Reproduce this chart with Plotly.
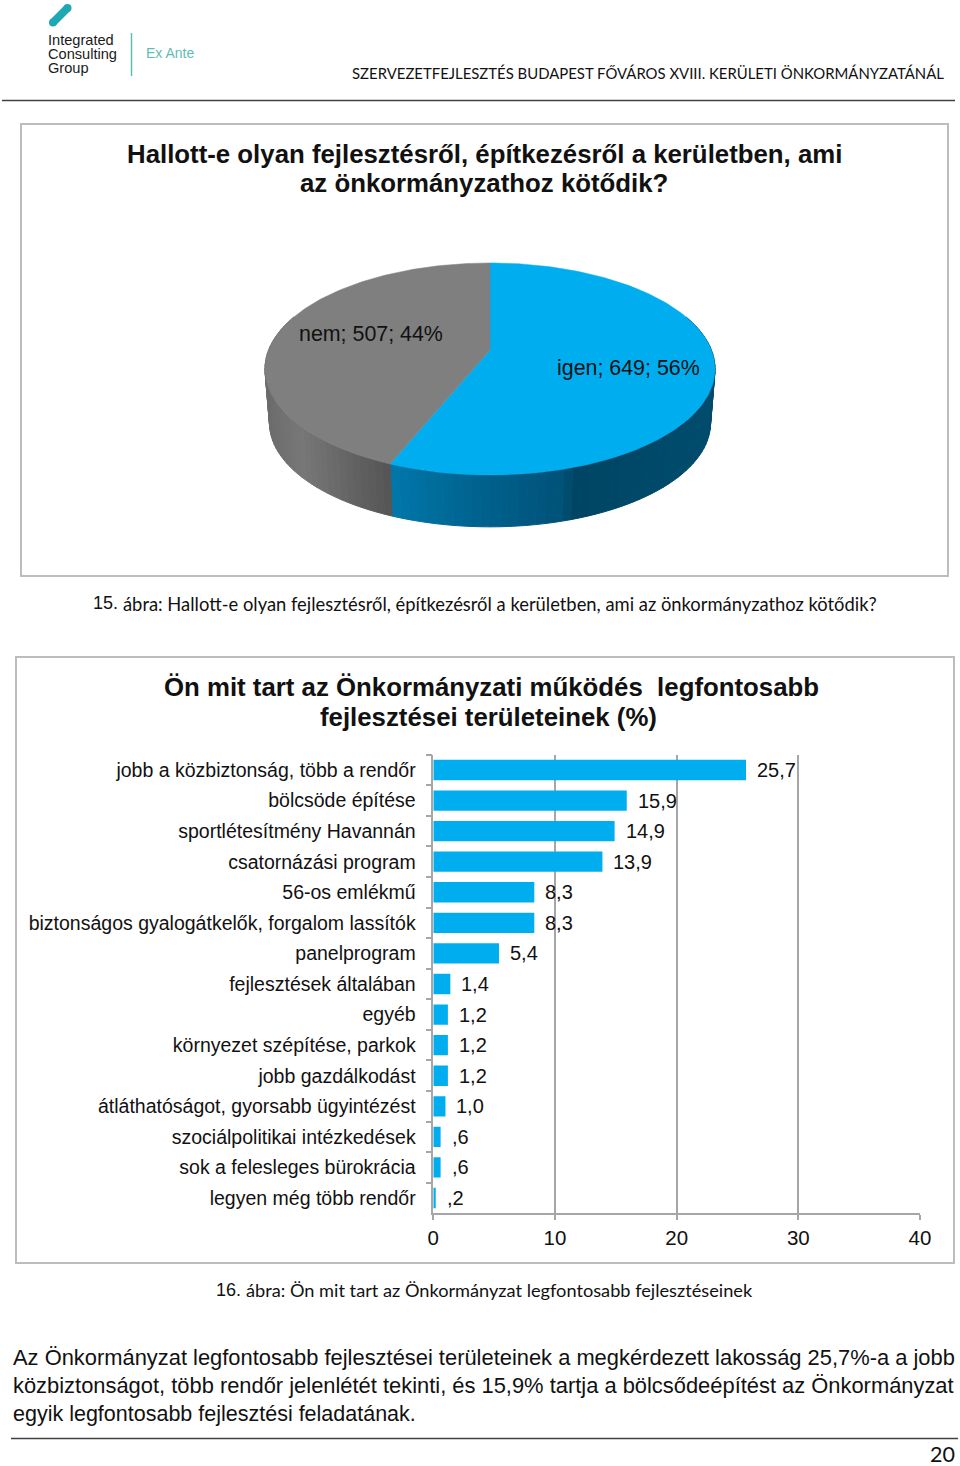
import numpy as np
import plotly.graph_objects as go

W, H = 960, 1466

# ---- data ----
pie_labels = ["igen", "nem"]
pie_values = [649, 507]
pie_percent = [56, 44]
pie_colors = ["#00aeef", "#7f7f7f"]

bar_categories = [
    "jobb a közbiztonság, több a rendőr", "bölcsöde építése", "sportlétesítmény Havannán",
    "csatornázási program", "56-os emlékmű", "biztonságos gyalogátkelők, forgalom lassítók",
    "panelprogram", "fejlesztések általában", "egyéb", "környezet szépítése, parkok",
    "jobb gazdálkodást", "átláthatóságot, gyorsabb ügyintézést", "szociálpolitikai intézkedések",
    "sok a felesleges bürokrácia", "legyen még több rendőr",
]
bar_values = [25.7, 15.9, 14.9, 13.9, 8.3, 8.3, 5.4, 1.4, 1.2, 1.2, 1.2, 1.0, 0.6, 0.6, 0.2]
bar_value_labels = ["25,7", "15,9", "14,9", "13,9", "8,3", "8,3", "5,4", "1,4", "1,2", "1,2",
                    "1,2", "1,0", ",6", ",6", ",2"]
x_ticks = [0, 10, 20, 30, 40]

title_1 = ["Hallott-e olyan fejlesztésről, építkezésről a kerületben, ami", "az önkormányzathoz kötődik?"]
title_2 = ["Ön mit tart az Önkormányzati működés\u00a0 legfontosabb", "fejlesztései területeinek (%)"]
caption_1 = "ábra: Hallott-e olyan fejlesztésről, építkezésről a kerületben, ami az önkormányzathoz kötődik?"
caption_2 = "ábra: Ön mit tart az Önkormányzat legfontosabb fejlesztéseinek"
header = "SZERVEZETFEJLESZTÉS BUDAPEST FŐVÁROS XVIII. KERÜLETI ÖNKORMÁNYZATÁNÁL"
body_lines = [
    "Az Önkormányzat legfontosabb fejlesztései területeinek a megkérdezett lakosság 25,7%-a a jobb",
    "közbiztonságot, több rendőr jelenlétét tekinti, és 15,9% tartja a bölcsődeépítést az Önkormányzat",
    "egyik legfontosabb fejlesztési feladatának.",
]

ARIAL = "Liberation Sans, Arial, sans-serif"
CALIBRI = "Lato, sans-serif"
BLUE = "#00aeef"
GRID = "#a6a6a6"
FRAME = "#bdbdbd"

fig = go.Figure()

# ---- page layer (pixel axes) ----
PX = dict(xaxis="x2", yaxis="y2", hoverinfo="skip", showlegend=False)

# 3-D pie, projected from the values
CX, APEX_Y, A, B, P = 490.0, 350.0, 221.4, 102.6, 0.179
DEPTH_SCALE, TOP_CY, LOW_CY = 0.98, 369.0, 423.0


def rim(theta_deg):
    t = np.radians(theta_deg)
    u, v = np.sin(t), -np.cos(t)
    s = 1 / (1 - P * v)
    return CX + A * u * s, APEX_Y + B * v * s


def low_rim(theta_deg):
    x, y = rim(theta_deg)
    return CX + (x - CX) * DEPTH_SCALE, LOW_CY + (y - TOP_CY) * DEPTH_SCALE


boundary = 360 * pie_values[0] / sum(pie_values)
side_stops_x = [265, 300, 330, 360, 389, 391, 480, 565, 572, 715]
side_stops_rgb = [(0x6c, 0x6c, 0x6c), (0x78, 0x78, 0x78), (0x6c, 0x6c, 0x6c), (0x60, 0x60, 0x60), (0x55, 0x55, 0x55),
                  (0x00, 0x78, 0xaa), (0x00, 0x62, 0x8e), (0x00, 0x52, 0x78), (0x00, 0x46, 0x64), (0x00, 0x4c, 0x6e)]


def side_color(x):
    r, g, b = (np.interp(x, side_stops_x, [c[i] for c in side_stops_rgb]) for i in range(3))
    return f"rgb({int(r)},{int(g)},{int(b)})"


angles = np.sort(np.append(np.linspace(70, 290, 111), boundary))
for a0, a1 in zip(angles[:-1], angles[1:]):
    if a1 <= a0:
        continue
    a_mid = (a0 + a1) / 2
    xs0, ys0 = rim(a0)
    xs1, ys1 = rim(a1)
    xl1, yl1 = low_rim(a1)
    xl0, yl0 = low_rim(a0)
    if a_mid > boundary:
        col = side_color(min((xs0 + xs1) / 2, 389))
    else:
        col = side_color(max((xs0 + xs1) / 2, 391))
    fig.add_trace(go.Scatter(x=[xs0, xs1, xl1, xl0, xs0], y=[ys0, ys1, yl1, yl0, ys0], mode="lines",
                             fill="toself", fillcolor=col, line=dict(color=col, width=1), **PX))

start = 0.0
for value, color in zip(pie_values, pie_colors):
    sweep = 360 * value / sum(pie_values)
    th = np.linspace(start, start + sweep, 160)
    px, py = rim(th)
    fig.add_trace(go.Scatter(x=[CX, *px, CX], y=[APEX_Y, *py, APEX_Y], mode="lines", fill="toself",
                             fillcolor=color, line=dict(color=color, width=0.5), **PX))
    start += sweep

# logo stroke
fig.add_trace(go.Scatter(x=[53, 67.5], y=[22.5, 8], mode="lines+markers",
                         line=dict(color="#1fa8b4", width=8), marker=dict(color="#1fa8b4", size=8), **PX))

# ---- bar chart ----
fig.add_trace(go.Bar(x=bar_values, y=bar_categories, orientation="h", marker=dict(color=BLUE, line_width=0),
                     width=0.665, hoverinfo="skip", showlegend=False))

annotations = []


def text(s, x, y, size, family=ARIAL, color="#111111", anchor="left", bold=False):
    annotations.append(dict(text=f"<b>{s}</b>" if bold else s, x=x / W, y=1 - y / H, xref="paper", yref="paper",
                            xanchor=anchor, yanchor="middle", showarrow=False,
                            font=dict(family=family, size=size, color=color), borderpad=0, borderwidth=0))


for v, lab, cat in zip(bar_values, bar_value_labels, bar_categories):
    annotations.append(dict(text=lab, x=v, y=cat, xref="x", yref="y", xanchor="left", yanchor="middle",
                            xshift=10, showarrow=False, font=dict(family=ARIAL, size=20, color="#111111"),
                            borderpad=0))

for i, line in enumerate(title_1):
    text(line, 484.5, 154 + i * 29.5, 25.8, anchor="center", bold=True)
for i, (line, xc) in enumerate(zip(title_2, [491.5, 488])):
    text(line, xc, 687 + i * 30, 25.8, anchor="center", bold=True)

text(f"{pie_labels[1]}; {pie_values[1]}; {pie_percent[1]}%", 299, 334, 21.4)
text(f"{pie_labels[0]}; {pie_values[0]}; {pie_percent[0]}%", 557, 368, 21.4)

text("15.", 93, 603, 18)
text(caption_1, 123, 604, 18.37, family=CALIBRI)
text("16.", 216, 1290, 18)
text(caption_2, 246, 1290, 18.2, family=CALIBRI)
text(header, 352, 73, 14.9, family=CALIBRI, anchor="left")
text("Integrated", 48, 40, 14.6, color="#1a1a1a")
text("Consulting", 48, 54, 14.6, color="#1a1a1a")
text("Group", 48, 68, 14.6, color="#1a1a1a")
text("Ex Ante", 146, 53, 14, color="#5fbdb6")
for line, y, size in zip(body_lines, [1357, 1385.5, 1414], [21.9, 21.9, 21.5]):
    text(line, 13, y, size)
text("20", 955, 1454, 21.5, family=CALIBRI, anchor="right")


def rect(x0, y0, x1, y1, color=FRAME, width=2):
    return dict(type="rect", xref="x2", yref="y2", x0=x0, y0=y0, x1=x1, y1=y1,
                line=dict(color=color, width=width), fillcolor="rgba(0,0,0,0)", layer="below")


def hline(x0, x1, y, color, width=1.5):
    return dict(type="line", xref="x2", yref="y2", x0=x0, x1=x1, y0=y, y1=y, line=dict(color=color, width=width))


shapes = [
    rect(21, 124, 948, 576),
    rect(16, 657, 954, 1263),
    hline(2, 955, 100.5, "#404040"),
    hline(11, 958, 1438.5, "#404040"),
    dict(type="line", xref="x2", yref="y2", x0=131.5, x1=131.5, y0=33, y1=76, line=dict(color="#5fbdb6", width=1.5)),
]

fig.update_layout(
    width=W, height=H, margin=dict(l=0, r=0, t=0, b=0, autoexpand=False), autosize=False,
    paper_bgcolor="white", plot_bgcolor="rgba(0,0,0,0)", showlegend=False,
    annotations=annotations, shapes=shapes, bargap=0.335,
    xaxis=dict(domain=[433.3 / W, 920 / W], range=[0, 40], tickmode="array", tickvals=x_ticks, automargin=False,
               ticktext=[str(t) for t in x_ticks], showgrid=True, gridcolor=GRID, gridwidth=1.5,
               zeroline=False, showline=True, linecolor=GRID, linewidth=1.5, ticks="outside", ticklen=5,
               tickcolor=GRID, tickwidth=1.5, tickfont=dict(family=ARIAL, size=20.5, color="#111111"),
               ticklabelstandoff=0, anchor="y", layer="below traces"),
    yaxis=dict(domain=[1 - 1213.3 / H, 1 - 754.7 / H], type="category", categoryorder="array", automargin=False,
               categoryarray=bar_categories, autorange=False, range=[len(bar_categories) - 0.5, -0.5],
               showgrid=False, zeroline=False, showline=True, linecolor=GRID, linewidth=1.5,
               ticks="outside", ticklen=6, tickson="boundaries", tickcolor=GRID, tickwidth=1.5,
               tickfont=dict(family=ARIAL, size=19.5, color="#111111"), ticklabelstandoff=12, anchor="x"),
    xaxis2=dict(domain=[0, 1], range=[0, W], visible=False, anchor="y2", fixedrange=True, automargin=False),
    yaxis2=dict(domain=[0, 1], range=[H, 0], visible=False, anchor="x2", fixedrange=True, automargin=False),
)

fig.write_html("out.html", post_script="document.body.style.margin='0';", config=dict(displayModeBar=False))
